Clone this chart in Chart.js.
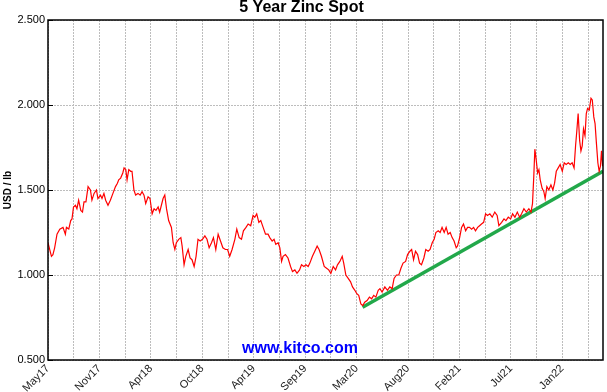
<!DOCTYPE html>
<html>
<head>
<meta charset="utf-8">
<title>5 Year Zinc Spot</title>
<script src="https://cdn.jsdelivr.net/npm/chart.js@4.4.1/dist/chart.umd.min.js"></script>
<style>
    body { margin: 0; background: #fff; }
</style>
</head>
<body>
<canvas id="zincChart" width="607" height="392"></canvas>
<script>
// zinc spot in USD/lb; x is in weeks from May 2017
var weeks = [0, 1.6, 2.3, 3.1, 4.2, 5.5, 7.0, 8.1, 8.6, 9.7, 10.6, 11.2, 11.9, 12.8, 13.5, 14.3, 15.3, 16.1, 16.8, 17.7,
    18.7, 19.8, 20.5, 21.5, 22.6, 23.3, 24.5, 25.2, 26.1, 26.9, 28.0, 29.1, 30.3, 31.5, 32.4, 33.0, 33.9, 34.9, 35.5, 36.3,
    36.9, 37.7, 38.6, 39.2, 40.1, 40.9, 42.0, 43.0, 43.9, 44.8, 45.6, 46.7, 47.6, 48.6, 49.5, 50.4, 51.4, 52.1,
    53.7, 54.5, 55.3, 56.3, 57.6, 58.4, 59.2, 59.9, 61.0, 62.0, 62.6, 63.5, 64.3, 65.4, 66.3, 67.2, 68.2, 69.1, 70.0, 71.0,
    72.1, 73.2, 74.2, 75.2, 76.3, 77.2, 78.3, 79.4, 80.5, 81.6, 82.8, 83.8, 84.8, 85.9, 87.2, 88.1, 89.2, 90.3, 91.2, 92.4,
    93.4, 94.6, 95.7, 96.5, 97.4, 98.4, 99.3, 100.4, 101.5, 102.7, 103.5,
    104.6, 105.5, 106.3, 107.4, 108.2, 109.0, 109.7, 110.8, 112.0, 113.2, 114.1, 115.2, 116.2, 117.4, 118.3, 119.4, 120.4,
    121.4, 122.2, 123.4, 124.5, 125.6, 126.5, 127.6, 128.9, 130.0, 131.0, 132.0, 133.1, 134.2, 135.1, 136.2, 137.3, 138.0,
    139.0, 140.1, 141.2, 142.1, 143.2, 144.1, 145.0, 146.0, 146.9, 147.8, 148.9, 150.0, 151.0, 152.0, 153.0, 154.1,
    154.9, 155.9, 157.2, 158.4, 159.5, 160.6, 161.5, 162.6, 163.7, 164.7, 165.7, 166.9, 167.8, 168.9, 169.7, 170.6, 171.5,
    172.5, 173.4, 174.3, 175.4, 176.3, 177.4, 178.3, 179.3, 180.2, 181.0, 182.1, 183.0, 183.9, 184.9, 185.8, 186.7, 187.7,
    188.6, 189.5, 190.5, 191.1, 192.1, 193.0, 193.9, 194.9, 195.8, 196.7, 197.7, 198.6, 199.5, 200.5, 201.4, 202.3, 203.3,
    204.2, 205.1, 206.2,
    207.3, 208.5, 209.6, 210.4, 211.7, 212.8, 213.7, 214.8, 215.9, 216.8, 217.9, 219.0, 220.1, 221.0, 222.1, 223.2, 224.4,
    225.4, 226.1, 226.7, 227.2, 227.8, 228.5, 229.1, 229.7, 230.6, 231.4, 232.0, 232.8, 233.7, 234.7, 235.6, 236.4, 237.2,
    238.1, 239.0, 240.0, 240.9, 241.8, 242.8, 243.7, 244.6, 245.5, 246.2, 246.8, 247.4, 248.1, 248.7, 249.3, 249.9, 250.6,
    251.2, 251.8, 252.6, 253.4, 254.0, 254.7, 255.3, 255.9, 256.6, 257.2, 257.8, 258.3, 258.8];
var zinc = [1.19, 1.11, 1.12, 1.16, 1.24, 1.27, 1.28, 1.24, 1.28, 1.27, 1.32, 1.33, 1.40, 1.41, 1.39, 1.44, 1.38, 1.37, 1.43, 1.43,
    1.52, 1.50, 1.44, 1.48, 1.50, 1.45, 1.47, 1.45, 1.48, 1.44, 1.41, 1.44, 1.48, 1.52, 1.54, 1.56, 1.57, 1.60, 1.63, 1.62,
    1.56, 1.62, 1.61, 1.61, 1.50, 1.47, 1.48, 1.47, 1.49, 1.47, 1.42, 1.46, 1.45, 1.36, 1.39, 1.38, 1.40, 1.37,
    1.45, 1.47, 1.39, 1.32, 1.28, 1.19, 1.15, 1.19, 1.21, 1.22, 1.17, 1.06, 1.11, 1.15, 1.10, 1.09, 1.05, 1.11, 1.21, 1.20,
    1.21, 1.23, 1.21, 1.16, 1.19, 1.22, 1.15, 1.24, 1.20, 1.16, 1.15, 1.15, 1.11, 1.15, 1.21, 1.27, 1.22, 1.21, 1.26, 1.28,
    1.30, 1.29, 1.35, 1.34, 1.36, 1.31, 1.32, 1.28, 1.24, 1.24, 1.22,
    1.20, 1.21, 1.18, 1.19, 1.16, 1.08, 1.11, 1.12, 1.10, 1.05, 1.02, 1.03, 1.01, 1.03, 1.06, 1.05, 1.06,
    1.05, 1.07, 1.11, 1.14, 1.17, 1.15, 1.11, 1.05, 1.04, 1.03, 1.01, 1.05, 1.03, 1.06, 1.08, 1.11, 1.07,
    1.00, 0.98, 0.96, 0.93, 0.91, 0.89, 0.88, 0.83, 0.82, 0.84, 0.85, 0.87, 0.86, 0.88, 0.87, 0.91,
    0.92, 0.90, 0.93, 0.91, 0.93, 0.92, 0.98, 1.00, 1.00, 1.04, 1.07, 1.08, 1.12, 1.14, 1.15, 1.09, 1.14,
    1.12, 1.07, 1.06, 1.10, 1.15, 1.14, 1.15, 1.19, 1.21, 1.25, 1.26, 1.25, 1.28, 1.25, 1.28, 1.24, 1.25,
    1.22, 1.20, 1.16, 1.17, 1.22, 1.28, 1.30, 1.26, 1.28, 1.28, 1.27, 1.28, 1.26, 1.28, 1.29, 1.30, 1.31,
    1.36, 1.35, 1.36,
    1.34, 1.37, 1.35, 1.29, 1.31, 1.33, 1.32, 1.34, 1.33, 1.36, 1.34, 1.37, 1.34, 1.36, 1.39, 1.37, 1.39,
    1.37, 1.42, 1.58, 1.74, 1.68, 1.60, 1.62, 1.56, 1.51, 1.49, 1.45, 1.52, 1.50, 1.53, 1.50, 1.54, 1.61,
    1.63, 1.65, 1.61, 1.66, 1.65, 1.66, 1.65, 1.66, 1.63, 1.76, 1.85, 1.95, 1.79, 1.73, 1.76, 1.86, 1.82,
    1.95, 1.98, 1.97, 2.04, 2.03, 1.93, 1.89, 1.78, 1.66, 1.61, 1.64, 1.73, 1.64];

// green support line
var trendWeeks = [146.8, 259];
var trendVals = [0.81, 1.61];

// one label every 24 weeks, grid every 12
var monthLabels = ['May17', 'Nov17', 'Apr18', 'Oct18', 'Apr19', 'Sep19', 'Mar20', 'Aug20', 'Feb21', 'Jul21', 'Jan22'];
var lastWeek = 259;

var font = "'Liberation Sans', Arial, sans-serif";

var zincData = weeks.map(function (w, i) { return {x: w, y: zinc[i]}; });
var trendData = trendWeeks.map(function (w, i) { return {x: w, y: trendVals[i]}; });

var frame = {
    id: 'frame',
    beforeDatasetsDraw: function (chart) {
        var ctx = chart.ctx, a = chart.chartArea;
        ctx.save();
        ctx.font = "bold 16px " + font;
        ctx.fillStyle = '#0000ff';
        ctx.textAlign = 'center';
        ctx.textBaseline = 'middle';
        ctx.fillText('www.kitco.com', 300, a.bottom - 11);
        ctx.restore();
    },
    afterDraw: function (chart) {
        var ctx = chart.ctx, a = chart.chartArea, y = chart.scales.y;
        ctx.save();
        ctx.strokeStyle = '#000';
        ctx.lineWidth = 1.5;
        ctx.strokeRect(a.left, a.top, a.right - a.left, a.bottom - a.top);
        ctx.lineWidth = 1;
        y.ticks.forEach(function (t) {
            var py = Math.round(y.getPixelForValue(t.value)) + 0.5;
            ctx.beginPath();
            ctx.moveTo(a.left, py);
            ctx.lineTo(a.left + 5, py);
            ctx.stroke();
        });
        ctx.restore();
    }
};

var ctx = document.getElementById('zincChart').getContext('2d');
new Chart(ctx, {
    type: 'line',
    data: {
        datasets: [{
            label: 'Zinc',
            data: zincData,
            borderColor: '#ff0000',
            borderWidth: 1.2,
            pointRadius: 0,
            tension: 0
        }, {
            label: 'Trend',
            data: trendData,
            borderColor: '#22a84a',
            borderWidth: 3.5,
            pointRadius: 0
        }]
    },
    options: {
        responsive: false,
        animation: false,
        devicePixelRatio: 1,
        layout: {padding: {left: 0, right: 4, top: 0, bottom: 0}},
        plugins: {
            legend: {display: false},
            tooltip: {enabled: false},
            title: {
                display: true,
                text: '5 Year Zinc Spot',
                color: '#000',
                font: {family: font, size: 16, weight: 'bold', lineHeight: 1},
                padding: {top: 0, bottom: 4}
            }
        },
        scales: {
            x: {
                type: 'linear',
                min: 0,
                max: lastWeek,
                afterBuildTicks: function (scale) {
                    var t = [];
                    for (var w = 0; w < lastWeek; w += 12) t.push({value: w});
                    scale.ticks = t;
                },
                afterFit: function (scale) { scale.height = 32; },
                ticks: {
                    autoSkip: false,
                    minRotation: 45,
                    maxRotation: 45,
                    padding: 2,
                    color: '#222',
                    font: {family: font, size: 11},
                    callback: function (v) { return v % 24 === 0 ? monthLabels[v / 24] : ''; }
                },
                grid: {color: '#bdbdbd', drawTicks: false},
                border: {display: false, dash: [2, 1]}
            },
            y: {
                min: 0.5,
                max: 2.5,
                afterFit: function (scale) { scale.width = 48; },
                ticks: {
                    stepSize: 0.5,
                    padding: 3,
                    color: '#000',
                    font: {family: font, size: 11},
                    callback: function (v) { return v.toFixed(3); }
                },
                grid: {color: '#bdbdbd', drawTicks: false},
                border: {display: false, dash: [2, 1]},
                title: {
                    display: true,
                    text: 'USD / lb',
                    color: '#000',
                    font: {family: font, size: 10, weight: 'bold'},
                    padding: {top: 2, bottom: 0}
                }
            }
        }
    },
    plugins: [frame]
});
</script>
</body>
</html>
